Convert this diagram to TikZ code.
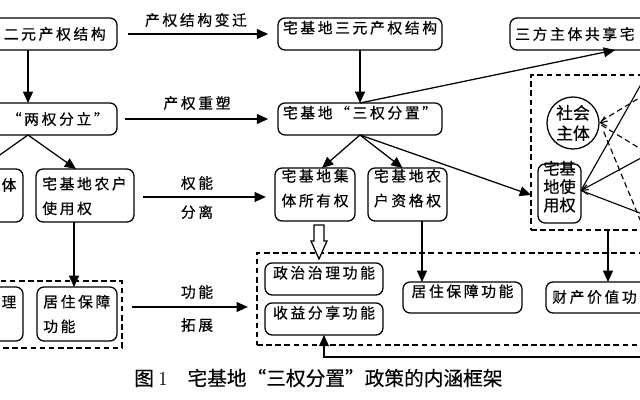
\documentclass[tikz,border=0pt]{standalone}
\usepackage{fontspec}
\newfontfamily\cjk{Noto Sans CJK SC}[LetterSpace=18,FakeBold=0.5]
\newfontfamily\cjkt{Noto Sans CJK SC}[FakeBold=0.5]
\newfontfamily\cjkc{Noto Sans CJK SC}[FakeBold=0.2]
\usetikzlibrary{arrows.meta,fit,calc}
\begin{document}
\begin{tikzpicture}[x=0.025cm,y=-0.025cm,
  box/.style={draw, line width=0.9pt, rounded corners=5pt, inner sep=0pt, outer sep=0pt},
  txt/.style={font=\cjk\fontsize{10.5}{17.5}\selectfont, inner sep=0pt},
  tight/.style={font=\cjkt\fontsize{11.5}{13}\selectfont, inner sep=0pt},
  arr/.style={line width=0.9pt, -{Triangle[length=8pt,width=7pt]}},
  barb/.style={line width=0.8pt, -{Straight Barb[length=4pt,width=7pt]}},
  dbox/.style={draw, line width=0.9pt, dash pattern=on 4pt off 2.5pt, inner sep=0pt, outer sep=0pt},
  dline/.style={line width=0.8pt, dash pattern=on 4pt off 2.5pt},
  sline/.style={line width=0.8pt},
  hollow/.style={line width=0.9pt, fill=white},
  lab/.style={font=\cjk\fontsize{10.5}{12}\selectfont, inner sep=0pt},
  captxt/.style={font=\cjkc\fontsize{14}{16}\selectfont, inner sep=0pt}]
\clip (0,0) rectangle (640,400);
\fill[white] (0,0) rectangle (640,400);

% top row
\node[box, fit={(-61,18)(117,50)}] (A) {};
\node[txt, anchor=east] (tA) at (106,34) {二元产权结构};
\node[box, txt, fit={(278,18)(442,50)}] (B) {宅基地三元产权结构};
\node[box, fit={(510,18)(720,50)}] (C) {};
\node[txt, anchor=west] (tC) at (515,34) {三方主体共享宅};

% second row
\node[box, fit={(-61,103)(117,135)}] (D) {};
\node[txt, anchor=east] (tD) at (109,119) {“两权分立”};
\node[box, txt, fit={(278,103)(442,135)}] (E) {宅基地“三权分置”};

% third row
\node[box, fit={(-75,169)(23,222)}] (F) {};
\node[txt] (tF) at (9,185) {体};
\node[box, fit={(36,169)(134,222)}] (G) {};
\node[txt, align=left, anchor=west] (tG) at (42,196) {宅基地农户\\使用权};
\node[box, txt, align=center, fit={(275,168)(355,221)}] (H) {宅基地集\\体所有权};
\node[box, txt, align=center, fit={(368,168)(447,221)}] (I) {宅基地农\\户资格权};

% right dashed group
\node[dbox, fit={(531,75)(720,230)}] (J) {};
\node[circle, draw, line width=0.9pt, minimum size=52*0.025cm, inner sep=0pt, align=center,
      font=\cjkt\fontsize{12}{14.5}\selectfont] (S) at (573,123) {社会\\主体};
\node[box, tight, align=center, fit={(538,164)(581,223)}] (K) {宅基\\地使\\用权};

% bottom dashed group
\node[dbox, fit={(257,253)(720,345)}] (L) {};
\node[box, txt, fit={(265,263)(383,295)}] (P1) {政治治理功能};
\node[box, txt, fit={(265,303)(383,335)}] (P2) {收益分享功能};
\node[box, txt, fit={(403,282)(522,313)}] (P3) {居住保障功能};
\node[box, fit={(546,282)(720,313)}] (P4) {};
\node[txt, anchor=west] (tP4) at (552,297) {财产价值功};

\node[dbox, fit={(-70,281)(122,348)}] (M) {};
\node[box, fit={(-60,287)(23,341)}] (Q1) {};
\node[txt] (tQ1) at (9,302) {理};
\node[box, fit={(37,287)(117,341)}] (Q2) {};
\node[txt, align=left, anchor=west] (tQ2) at (43,314) {居住保障\\功能};

% labels
\node[lab] (l1) at (196,20) {产权结构变迁};
\node[lab] (l2) at (197,103) {产权重塑};
\node[lab] (l3) at (197,183) {权能};
\node[lab] (l4) at (197,212) {分离};
\node[lab] (l5) at (197,292) {功能};
\node[lab] (l6) at (197,325) {拓展};

% caption
\node[captxt, anchor=west] (capn) at (134,378) {图\hspace{3pt}{\rmfamily\fontsize{14}{16}\selectfont 1}\hspace{14pt}宅基地“三权分置”政策的内涵框架};

% horizontal arrows
\draw[arr, shorten <=7.5pt, shorten >=7pt] (A) -- (B);
\draw[arr, shorten <=5.5pt, shorten >=7pt] (D) -- (E);
\coordinate (g1) at ($(G.east)+(0,1.5)$);
\draw[arr, shorten <=6.5pt, shorten >=6.5pt] (g1) -- (g1 -| H.west);
\coordinate (m1) at ($(M.east)+(0,-7.5)$);
\draw[arr, shorten <=7pt, shorten >=6.5pt] (m1) -- (m1 -| L.west);

% vertical and split arrows
\draw[arr] (A) -- (D);
\draw[arr] (B) -- (E);
\draw[arr] (D.south) -- ($(F.north)+(6,0)$);
\draw[arr] (D.south) -- ($(G.north)+(-9,0)$);
\draw[arr] (E.north) -- (C.south);
\draw[arr] (E.south) -- ($(H.north)+(7,0)$);
\draw[arr] (E.south) -- ($(I.north)+(-5,0)$);
\draw[arr] (E.south) -- ($(J.west)+(0,42.5)$);
\coordinate (iq) at ($(I.south)+(14.5,0)$);
\draw[arr] (iq) -- (iq |- P3.north);
\coordinate (jq) at ($(J.south)+(-17.5,0)$);
\draw[arr] (jq) -- (jq |- P4.north);
\coordinate (gq) at ($(G.south)+(-11,0)$);
\draw[arr] (gq) -- (gq |- Q2.north);
\coordinate (fb) at (700,357);
\draw[arr] (fb) -| (P2.south);

% hollow arrow
\draw[hollow] ($(H.south)+(-1,4)$) -- ++(10,0) -- ++(0,16) -- ++(3,0) -- ++(-8,18) -- ++(-8,-18) -- ++(3,0) -- cycle;

% lines inside right group
\coordinate (r1) at (700,61);
\coordinate (r2) at (700,185);
\coordinate (r3) at (700,365);
\coordinate (k1) at (700,-20);
\coordinate (k2) at (700,126);
\coordinate (k3) at (700,236);
\draw[dline] (r1) -- ($(S.east)+(0,-1)$);
\draw[dline] (r2) -- ($(S.east)+(0,1)$);
\draw[barb] ($(S.east)+(8,-2)$) -- (S.east);
\draw[dline] (r3) -- ($(S.east)+(3,6)$);
\draw[sline] (k1) -- ($(K.east)+(0,-3)$);
\draw[sline] (k2) -- ($(K.east)+(0,-3)$);
\draw[sline] (k3) -- ($(K.east)+(0,-3)$);
\draw[barb] ($(K.east)+(8,-4)$) -- ($(K.east)+(0,-3)$);
\end{tikzpicture}
\end{document}
